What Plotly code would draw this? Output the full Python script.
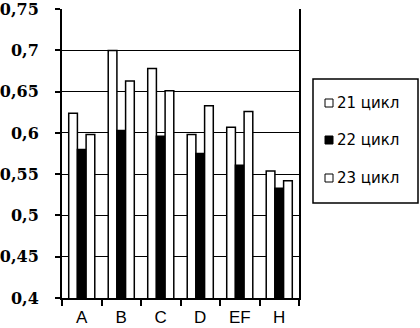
import plotly.graph_objects as go

categories = ["A", "B", "C", "D", "EF", "H"]
series_names = ["21 цикл", "22 цикл", "23 цикл"]
cycle21 = [0.624, 0.700, 0.678, 0.598, 0.607, 0.554]
cycle22 = [0.580, 0.603, 0.596, 0.575, 0.561, 0.533]
cycle23 = [0.598, 0.663, 0.651, 0.633, 0.626, 0.542]
series_values = [cycle21, cycle22, cycle23]
series_colors = ["white", "black", "white"]
y_tickvals = [0.4, 0.45, 0.5, 0.55, 0.6, 0.65, 0.7, 0.75]
y_ticktext = ["0,4", "0,45", "0,5", "0,55", "0,6", "0,65", "0,7", "0,75"]

W, H = 420, 328
ML, MR, MT, MB = 62, 121, 9, 30
PW, PH = W - ML - MR, H - MT - MB


def px2paper(px, py):
    return (px - ML) / PW, (H - MB - py) / PH


fig = go.Figure()
for name, vals, col in zip(series_names, series_values, series_colors):
    fig.add_trace(go.Bar(
        x=categories, y=vals, name=name, showlegend=False,
        marker=dict(color=col, line=dict(color="black", width=1.5)),
    ))

# manual legend (box, symbols, labels)
shapes = []
annotations = []
bx0, by0 = px2paper(313, 203)
bx1, by1 = px2paper(418, 79)
shapes.append(dict(type="rect", xref="paper", yref="paper", x0=bx0, y0=by0, x1=bx1, y1=by1,
                   line=dict(color="black", width=1.5), fillcolor="white", layer="above"))
item_py = [103, 140, 178]
for name, col, py in zip(series_names, series_colors, item_py):
    sx0, sy0 = px2paper(325, py + 4)
    sx1, sy1 = px2paper(333, py - 4)
    shapes.append(dict(type="rect", xref="paper", yref="paper", x0=sx0, y0=sy0, x1=sx1, y1=sy1,
                       line=dict(color="black", width=1), fillcolor=col, layer="above"))
    tx, ty = px2paper(335, py)
    annotations.append(dict(xref="paper", yref="paper", x=tx, y=ty, xanchor="left", yanchor="middle",
                            text=name, showarrow=False,
                            font=dict(family="DejaVu Sans", size=15, color="black")))

fig.update_layout(
    width=W, height=H,
    margin=dict(l=ML, r=MR, t=MT, b=MB),
    paper_bgcolor="white", plot_bgcolor="white",
    barmode="group", bargap=0.34, bargroupgap=0,
    showlegend=False,
    shapes=shapes, annotations=annotations,
)
fig.update_xaxes(
    automargin=False,
    showline=True, linecolor="black", linewidth=2,
    ticks="outside", tickson="boundaries", ticklen=6, tickwidth=1.5, tickcolor="black",
    ticklabelstandoff=3,
    tickfont=dict(family="Liberation Sans", size=17, color="black"),
    showgrid=False,
)
fig.update_yaxes(
    automargin=False,
    range=[0.4, 0.7502], tickvals=y_tickvals, ticktext=y_ticktext,
    showline=True, mirror=True, linecolor="black", linewidth=2,
    ticks="outside", ticklen=5, tickwidth=1.5, tickcolor="black",
    ticklabelstandoff=13, ticklabeloverflow="allow",
    tickfont=dict(family="DejaVu Serif", size=16, color="black", weight="bold"),
    showgrid=True, gridcolor="black", gridwidth=1, zeroline=False,
)
fig.write_html("out.html", config={"displayModeBar": False},
               post_script="document.body.style.margin='0';document.body.style.padding='0';")
